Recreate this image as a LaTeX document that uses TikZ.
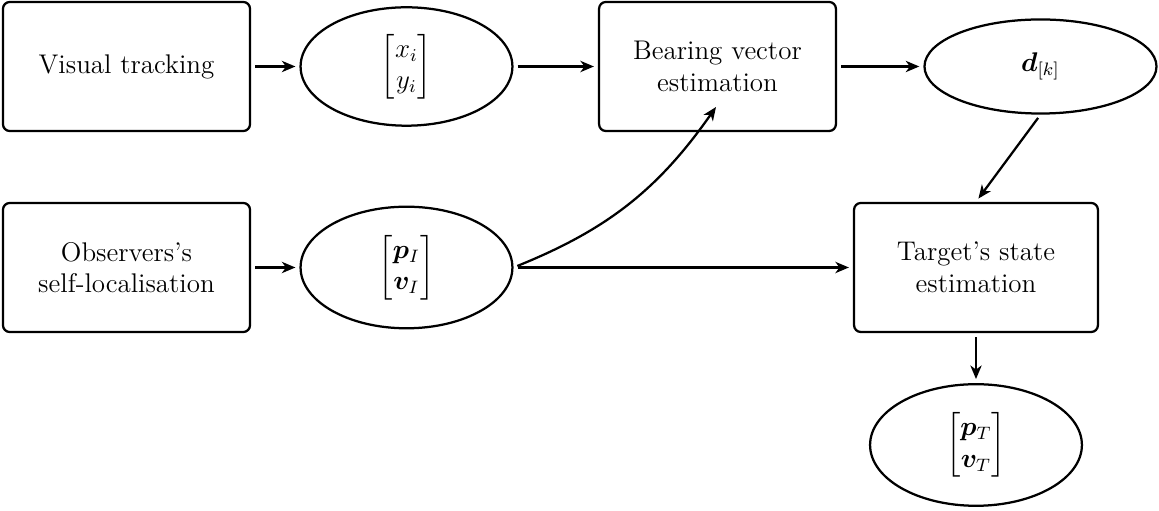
\documentclass[tikz,border=0pt]{standalone}
\usepackage{amsmath,bm}
\usetikzlibrary{shapes.geometric,arrows.meta}
\begin{document}
\begin{tikzpicture}[x=0.015625cm,y=-0.015625cm,
  every node/.style={font=\large},
  blk/.style={draw,line width=1pt,rounded corners=3pt,align=center,
    minimum width=3.86cm,minimum height=2.016cm,inner sep=0pt},
  ell/.style={draw,line width=1pt,ellipse,inner sep=0pt,
    minimum width=3.31cm,minimum height=1.85cm},
  arr/.style={line width=1pt,-{Stealth[length=6pt,width=5pt,inset=1.8pt]},
    shorten >=1.8pt,shorten <=1.8pt}]
\useasboundingbox (0,0) rectangle (1159,511);
\node[blk] (vt) at (126.5,66.5) {Visual tracking};
\node[ell] (xy) at (406.5,66.5) {$\begin{bmatrix} x_i\\ y_i\end{bmatrix}$};
\node[blk,minimum width=3.70cm] (bv) at (717.5,66.5) {Bearing vector\\estimation};
\node[ell,minimum width=3.625cm,minimum height=1.47cm] (d) at (1040.5,66.5) {$\bm{d}_{[k]}$};
\node[blk] (obs) at (126.5,267.5) {Observers's\\self-localisation};
\node[ell,minimum height=1.9cm] (pI) at (406.5,267.5) {$\begin{bmatrix} \bm{p}_I\\ \bm{v}_I\end{bmatrix}$};
\node[blk,minimum width=3.81cm] (ts) at (976,267.5) {Target's state\\estimation};
\node[ell,minimum height=1.9cm] (pT) at (976,445) {$\begin{bmatrix} \bm{p}_T\\ \bm{v}_T\end{bmatrix}$};
\coordinate (bvin) at (716,107);
\draw[arr] (vt) -- (xy);
\draw[arr] (xy) -- (bv);
\draw[arr] (bv) -- (d);
\draw[arr] (obs) -- (pI);
\draw[arr] (pI) -- (ts);
\draw[arr] (d.south) -- (ts.north);
\draw[arr] (ts) -- (pT);
\draw[arr,shorten >=0pt] (pI.east) to[out=22,in=-125] (bvin);
\end{tikzpicture}
\end{document}
